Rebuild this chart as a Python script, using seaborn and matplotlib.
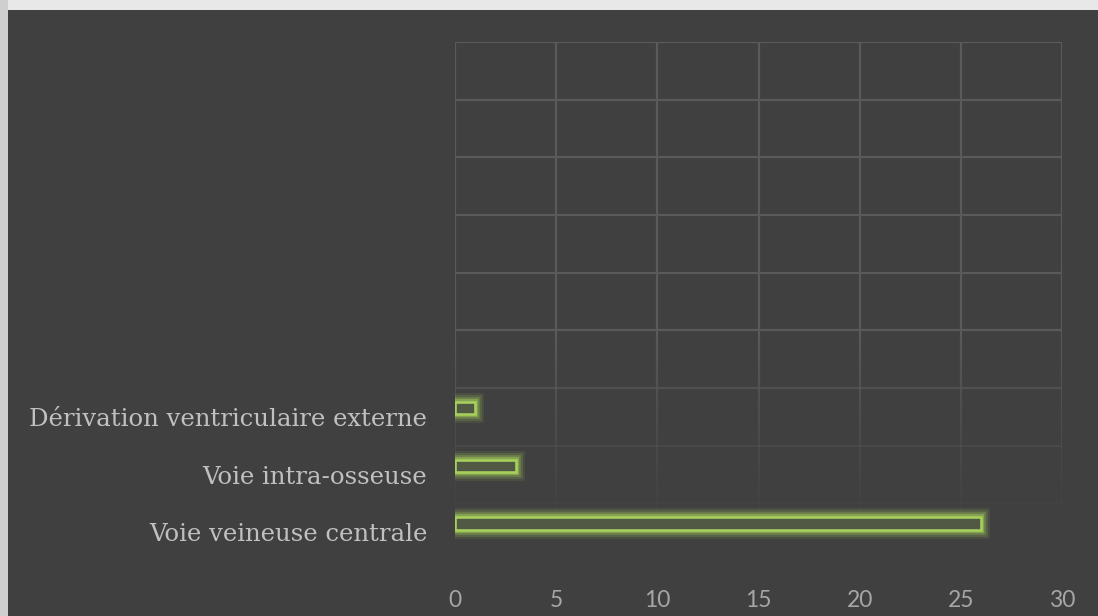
import numpy as np
import pandas as pd
import matplotlib
matplotlib.use("Agg")
import matplotlib.pyplot as plt
import matplotlib.patheffects as pe
from matplotlib.collections import LineCollection
from matplotlib.patches import Rectangle
import seaborn as sns

# ---- data ----
categories = ["Voie veineuse centrale", "Voie intra-osseuse", "Dérivation ventriculaire externe"]
values = [26, 3, 1]
series = ["Série 1", "Série 1", "Série 1"]
series_levels = ["Série 1", "Série 2"]
empty_slots = [" " * k for k in range(1, 7)]
x_ticks = [0, 5, 10, 15, 20, 25, 30]

df = pd.DataFrame({"categorie": categories, "valeur": values, "serie": series})
order = empty_slots + categories[::-1]

# ---- style ----
BG = "#404040"
GRID = "#5a5a5a"
EDGE = "#a6cf5c"
FILL = "#525d40"

sns.set_theme(style="dark")
fig = plt.figure(figsize=(10.98, 6.16), dpi=100, facecolor=BG)
ax = fig.add_axes([455 / 1098, 1 - 561 / 616, (1062 - 455) / 1098, (561 - 42) / 616])
ax.set_facecolor(BG)

sns.barplot(data=df, y="categorie", x="valeur", hue="serie", hue_order=series_levels,
            order=order, orient="h", width=0.6, gap=0.3, dodge=True,
            palette=[FILL, FILL], edgecolor=EDGE, linewidth=1.9,
            legend=False, errorbar=None, ax=ax, zorder=3)

for p in ax.patches:
    p.set_path_effects([
        pe.Stroke(linewidth=13, foreground=EDGE, alpha=0.10),
        pe.Stroke(linewidth=10, foreground=EDGE, alpha=0.16),
        pe.Stroke(linewidth=7, foreground=EDGE, alpha=0.25),
        pe.Stroke(linewidth=4.5, foreground=EDGE, alpha=0.45),
        pe.Normal(),
    ])

n = len(order)
ax.set_ylim(n - 0.5, -0.5)
ax.set_xlim(x_ticks[0], x_ticks[-1])
ax.set_xticks(x_ticks)
ax.set_xticklabels([str(t) for t in x_ticks])
ax.grid(False)
for s in ax.spines.values():
    s.set_visible(False)

# horizontal gridlines at category boundaries, fading toward the bottom
bounds = np.arange(n + 1) - 0.5
for b in bounds:
    a = float(np.clip((8.2 - b) / (8.2 - 4.6), 0, 1)) ** 1.5 if b > 4.6 else 1.0
    if a > 0:
        ax.axhline(b, color=GRID, lw=1.6, alpha=a, zorder=1)

# vertical gridlines with gradient fade
segs, cols = [], []
ys = np.linspace(-0.5, n - 0.5, 181)
base = matplotlib.colors.to_rgb(GRID)
for t in x_ticks:
    for y0, y1 in zip(ys[:-1], ys[1:]):
        ym = 0.5 * (y0 + y1)
        a = 1.0 if ym < 4.6 else float(np.clip((8.1 - ym) / (8.1 - 4.6), 0, 1)) ** 1.3
        segs.append([(t, y0), (t, y1)])
        cols.append((*base, a))
ax.add_collection(LineCollection(segs, colors=cols, linewidths=1.6, zorder=1,
                                 capstyle="butt"))

ax.set_xlabel("")
ax.set_ylabel("")
ax.tick_params(axis="both", length=0)
ax.tick_params(axis="x", pad=21, colors="#a6a6a6")
ax.tick_params(axis="y", pad=20, colors="#bfbfbf")
for lab in ax.get_xticklabels():
    lab.set_family(["Lato", "DejaVu Sans"])
    lab.set_fontsize(16.5)
    lab.set_color("#a6a6a6")
for lab in ax.get_yticklabels():
    lab.set_family(["DejaVu Serif", "Liberation Serif"])
    lab.set_fontsize(17.6)
    lab.set_color("#c0c0c0")

# light frame on top and left edges of the picture
fig.patches.append(Rectangle((0, 1 - 10 / 616), 1, 10 / 616, transform=fig.transFigure,
                             facecolor="#e8e8e8", edgecolor="none", zorder=0))
fig.patches.append(Rectangle((0, 0), 8 / 1098, 1, transform=fig.transFigure,
                             facecolor="#cfcfcf", edgecolor="none", zorder=0))

fig.savefig("out.png", dpi=100, facecolor=BG)
